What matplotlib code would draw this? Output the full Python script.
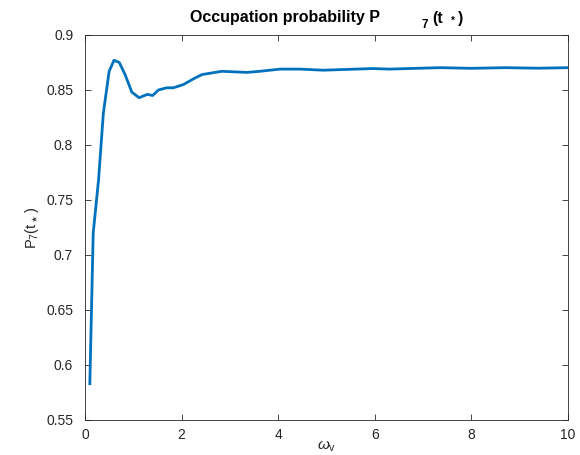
import numpy as np
import matplotlib.pyplot as plt

plt.rcParams['font.family'] = ['Liberation Sans', 'DejaVu Sans']
plt.rcParams['mathtext.fontset'] = 'custom'
plt.rcParams['mathtext.rm'] = 'Liberation Sans'
plt.rcParams['mathtext.it'] = 'Liberation Sans:italic'

# occupation probability vs. vibrational frequency
omega_v = [0.10, 0.17, 0.28, 0.38, 0.50, 0.60, 0.71, 0.83, 0.97, 1.12, 1.29, 1.40,
           1.52, 1.69, 1.83, 2.04, 2.24, 2.42, 2.83, 3.35, 3.62, 4.04, 4.45, 4.93,
           5.96, 6.30, 7.35, 8.00, 8.70, 9.40, 10.0]
p7 = [0.583, 0.720, 0.768, 0.829, 0.867, 0.877, 0.875, 0.864, 0.848, 0.843, 0.846, 0.845,
      0.850, 0.852, 0.852, 0.855, 0.860, 0.864, 0.867, 0.866, 0.867, 0.869, 0.869, 0.868,
      0.8695, 0.869, 0.8703, 0.8697, 0.8703, 0.8698, 0.8703]

fig = plt.figure(figsize=(5.8, 4.55), dpi=100)
ax = fig.add_axes([85 / 580, 35 / 455, 483 / 580, 385 / 455])

ax.plot(omega_v, p7, color=(0, 0.447, 0.741), lw=2)
ax.set_xlim(0, 10)
ax.set_ylim(0.55, 0.9)
ax.set_xticks(np.arange(0, 11, 2))
ax.set_yticks(np.arange(0.55, 0.901, 0.05))
ax.set_yticklabels(['0.55', '0.6', '0.65', '0.7', '0.75', '0.8', '0.85', '0.9'])
ax.tick_params(direction='in', top=True, right=True, labelsize=10, colors='0.15',
               length=4, width=0.6, pad=6)
ax.tick_params(axis='y', pad=8.5)
for s in ax.spines.values():
    s.set_color('0.15')
    s.set_linewidth(0.6)

ax.set_xlabel(r'$\omega_{\rm v}$', fontsize=11, color='0.15', labelpad=-2)
ax.set_ylabel(r'P$_7$(t$_\star$)', fontsize=10.5, color='0.15', labelpad=4)

# title with the odd spacing before the subscript
fig.text(190 / 580, 1 - 22 / 455, 'Occupation probability P', fontsize=11.5, fontweight='bold',
         va='baseline', ha='left')
fig.text(421 / 580, 1 - 28 / 455, '7', fontsize=8.5, fontweight='bold', va='baseline', ha='left')
fig.text(432 / 580, 1 - 23 / 455, '(t', fontsize=11.5, fontweight='bold', va='baseline', ha='left')
fig.text(451 / 580, 1 - 24 / 455, '*', fontsize=7, fontweight='bold', va='baseline', ha='left')
fig.text(458 / 580, 1 - 23 / 455, ')', fontsize=11.5, fontweight='bold', va='baseline', ha='left')

fig.savefig('out.png', dpi=100)
